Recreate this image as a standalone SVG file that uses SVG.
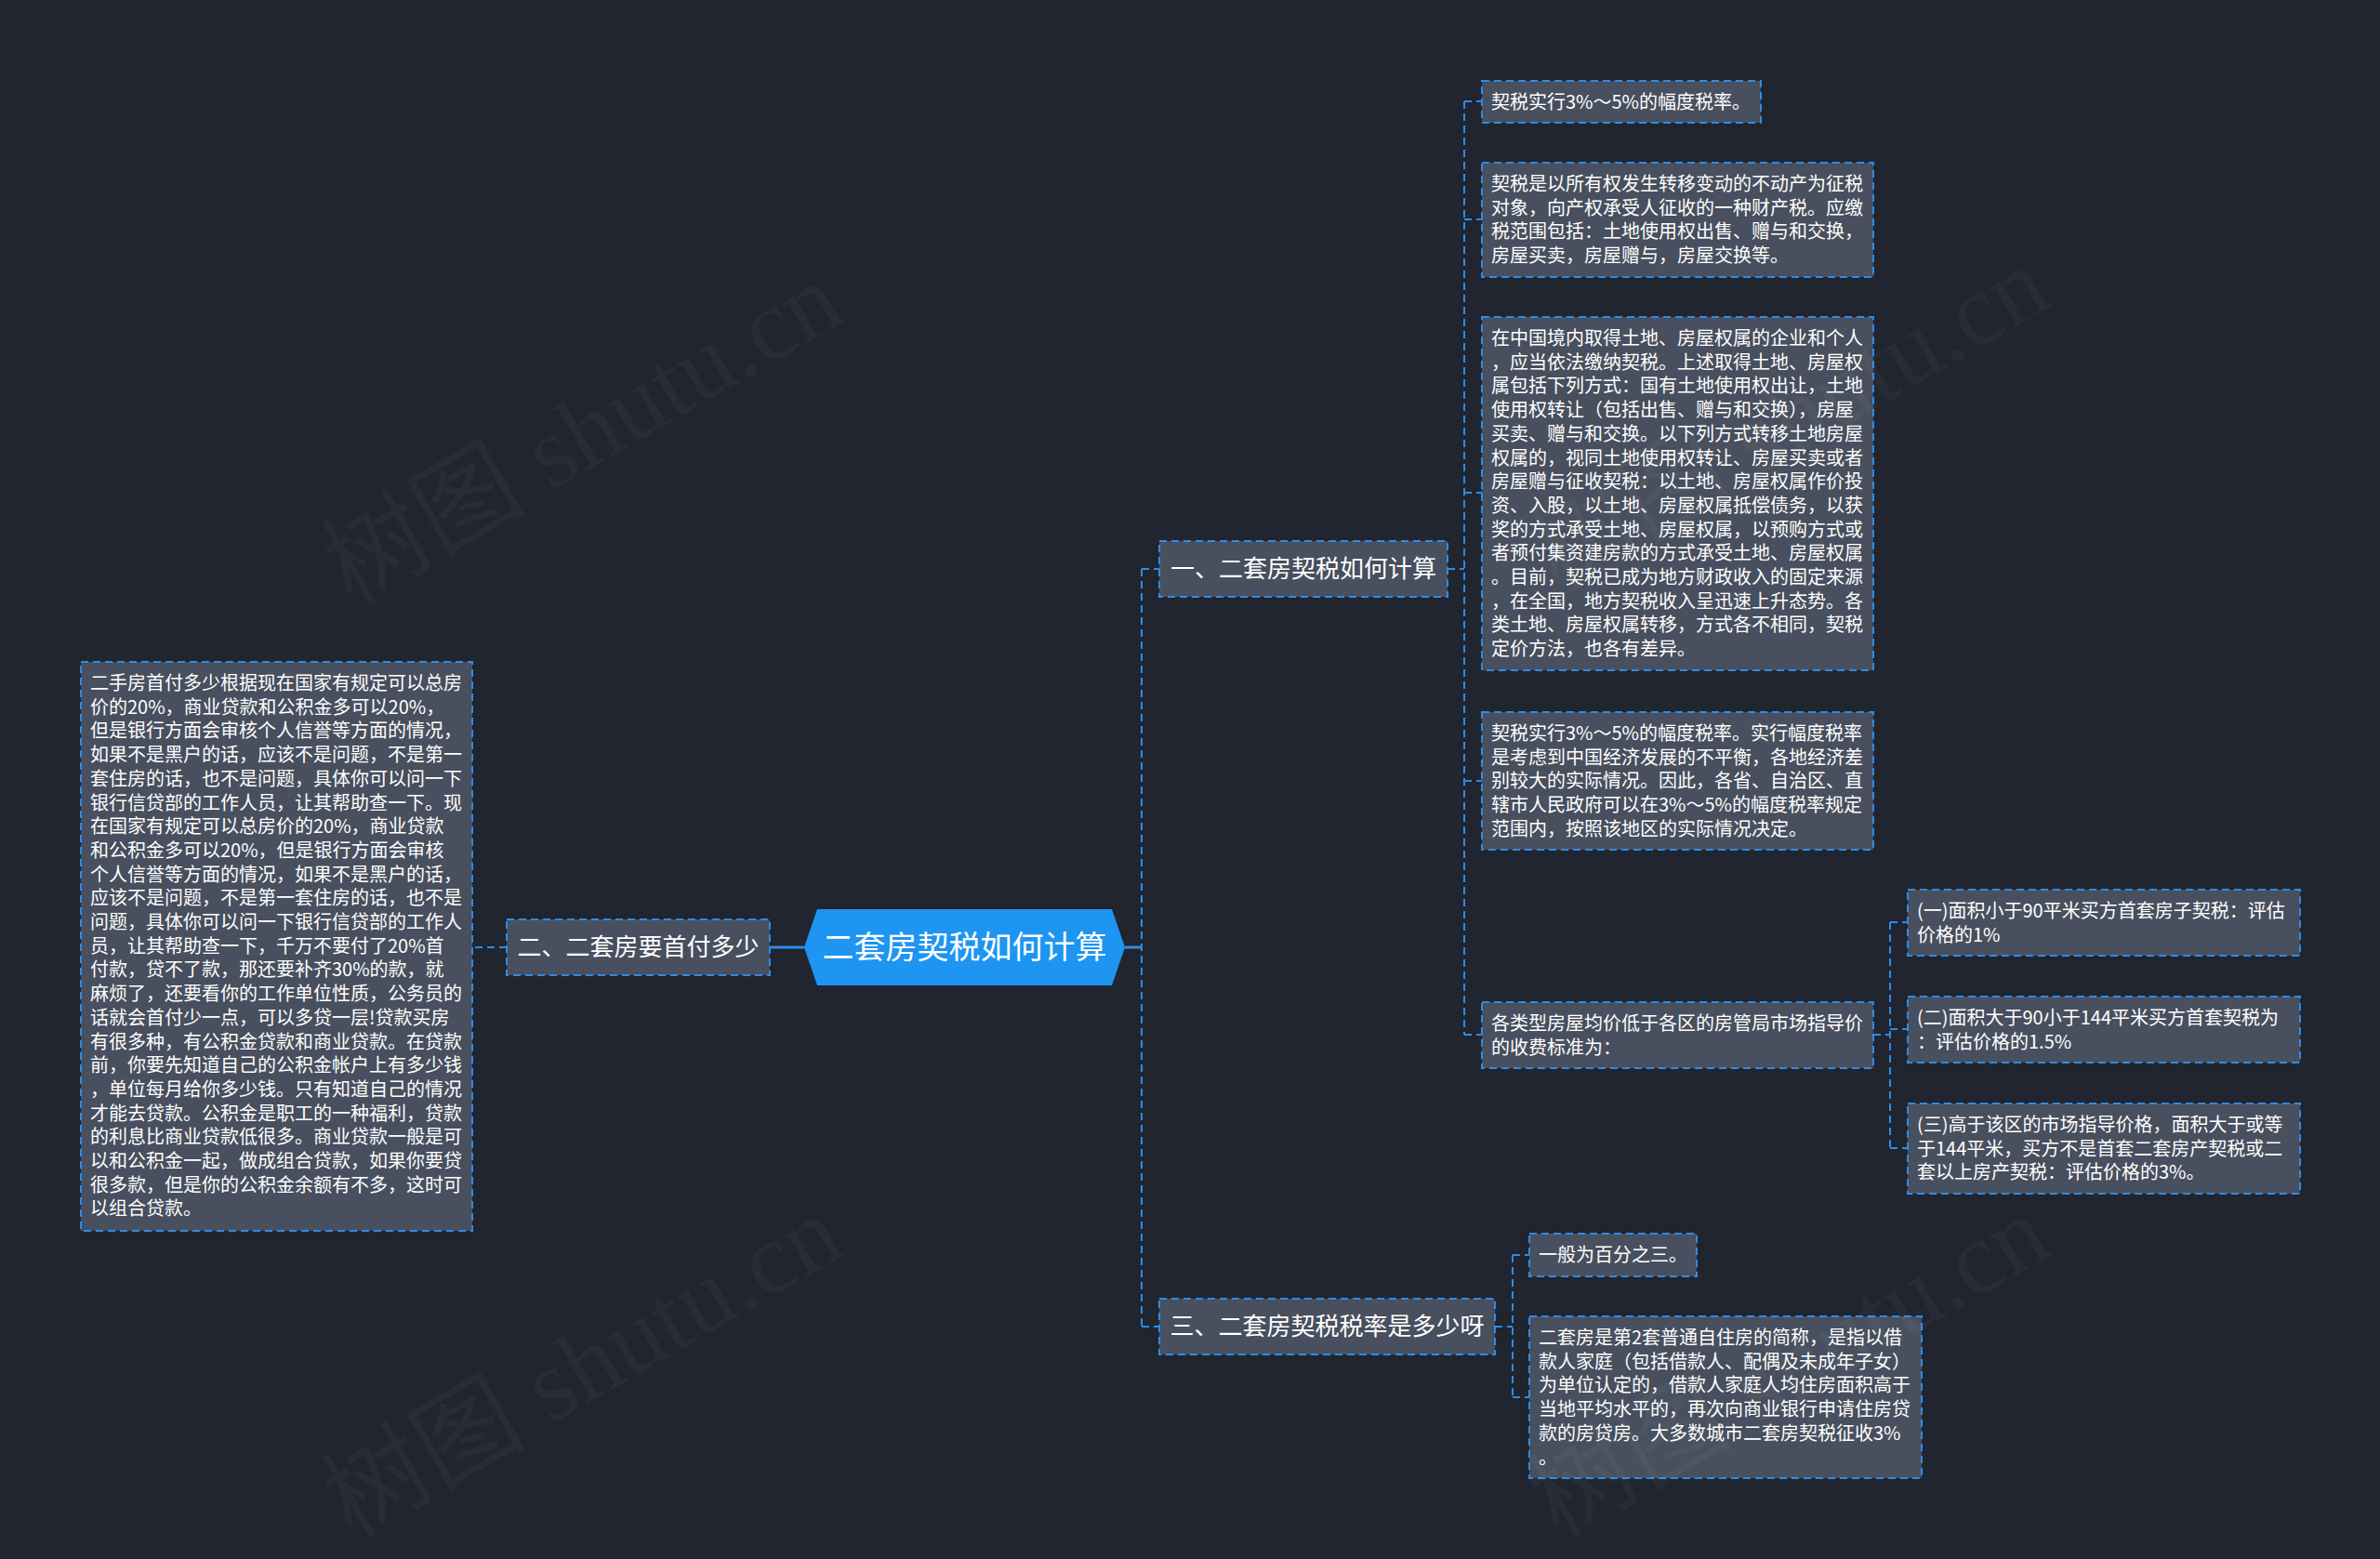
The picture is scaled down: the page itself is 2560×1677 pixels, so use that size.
<svg xmlns="http://www.w3.org/2000/svg" width="2560" height="1677" viewBox="0 0 2560 1677">
<style>
.bg{fill:#212530}
.box{fill:#484f5e;stroke:#2d8ce6;stroke-width:2;stroke-dasharray:8 5}
.t{font-family:"Noto Sans CJK SC","Noto Sans",sans-serif;fill:#ffffff;font-size:20px}
.bt{font-family:"Noto Sans CJK SC","Noto Sans",sans-serif;fill:#ffffff;font-size:26px;text-anchor:middle}
.rt{font-family:"Noto Sans CJK SC","Noto Sans",sans-serif;fill:#ffffff;font-size:34px;text-anchor:middle}
.dash{fill:none;stroke:#2d8ce6;stroke-width:2;stroke-dasharray:8 5}
.solid{fill:none;stroke:#2d8ce6;stroke-width:3}
.wm{font-family:"Liberation Serif","Noto Sans CJK SC",serif;font-size:110px;fill:#ffffff;fill-opacity:0.035}
</style>
<rect class="bg" x="0" y="0" width="2560" height="1677"/>

<g id="connectors">
<path class="solid" d="M1210,1019 H1228"/>
<path class="solid" d="M828,1019 H865"/>
<path class="dash" d="M1228,612 V1427 M1228,612 H1247 M1228,1427 H1247"/>
<path class="dash" d="M545,1019 H508"/>
<path class="dash" d="M1557,612 H1575 M1575,109 V1113 M1575,109 H1594 M1575,236 H1594 M1575,530 H1594 M1575,840 H1594 M1575,1113 H1594"/>
<path class="dash" d="M2015,1113 H2033 M2033,992 V1235 M2033,992 H2052 M2033,1107 H2052 M2033,1235 H2052"/>
<path class="dash" d="M1608,1427 H1627 M1627,1350 V1503 M1627,1350 H1645 M1627,1503 H1645"/>
</g>

<g id="root">
<polygon points="865,1019 879,978 1196,978 1210,1019 1196,1060 879,1060" fill="#1e95f0"/>
<text class="rt" x="1037.5" y="1031">二套房契税如何计算</text>
</g>

<g id="branch-1">
<rect class="box" x="1247" y="582" width="310" height="60"/>
<text class="bt" x="1402" y="621">一、二套房契税如何计算</text>
</g>

<g id="branch-2">
<rect class="box" x="545" y="989" width="283" height="60"/>
<text class="bt" x="686.5" y="1028">二、二套房要首付多少</text>
</g>

<g id="branch-3">
<rect class="box" x="1247" y="1397" width="361" height="60"/>
<text class="bt" x="1427.5" y="1436">三、二套房契税税率是多少呀</text>
</g>

<g id="leaf-left">
<rect class="box" x="87" y="712" width="421" height="612"/>
<text class="t">
<tspan x="97" y="742">二手房首付多少根据现在国家有规定可以总房</tspan>
<tspan x="97" y="767.7">价的20%，商业贷款和公积金多可以20%，</tspan>
<tspan x="97" y="793.4">但是银行方面会审核个人信誉等方面的情况，</tspan>
<tspan x="97" y="819.1">如果不是黑户的话，应该不是问题，不是第一</tspan>
<tspan x="97" y="844.8">套住房的话，也不是问题，具体你可以问一下</tspan>
<tspan x="97" y="870.5">银行信贷部的工作人员，让其帮助查一下。现</tspan>
<tspan x="97" y="896.2">在国家有规定可以总房价的20%，商业贷款</tspan>
<tspan x="97" y="921.9">和公积金多可以20%，但是银行方面会审核</tspan>
<tspan x="97" y="947.6">个人信誉等方面的情况，如果不是黑户的话，</tspan>
<tspan x="97" y="973.3">应该不是问题，不是第一套住房的话，也不是</tspan>
<tspan x="97" y="999">问题，具体你可以问一下银行信贷部的工作人</tspan>
<tspan x="97" y="1024.7">员，让其帮助查一下，千万不要付了20%首</tspan>
<tspan x="97" y="1050.4">付款，贷不了款，那还要补齐30%的款，就</tspan>
<tspan x="97" y="1076.1">麻烦了，还要看你的工作单位性质，公务员的</tspan>
<tspan x="97" y="1101.8">话就会首付少一点，可以多贷一层!贷款买房</tspan>
<tspan x="97" y="1127.5">有很多种，有公积金贷款和商业贷款。在贷款</tspan>
<tspan x="97" y="1153.2">前，你要先知道自己的公积金帐户上有多少钱</tspan>
<tspan x="97" y="1178.9">，单位每月给你多少钱。只有知道自己的情况</tspan>
<tspan x="97" y="1204.6">才能去贷款。公积金是职工的一种福利，贷款</tspan>
<tspan x="97" y="1230.3">的利息比商业贷款低很多。商业贷款一般是可</tspan>
<tspan x="97" y="1256">以和公积金一起，做成组合贷款，如果你要贷</tspan>
<tspan x="97" y="1281.7">很多款，但是你的公积金余额有不多，这时可</tspan>
<tspan x="97" y="1307.4">以组合贷款。</tspan>
</text>
</g>

<g id="leaf-1-1">
<rect class="box" x="1594" y="87" width="300" height="45"/>
<text class="t"><tspan x="1604" y="117">契税实行3%～5%的幅度税率。</tspan></text>
</g>

<g id="leaf-1-2">
<rect class="box" x="1594" y="175" width="421" height="123"/>
<text class="t">
<tspan x="1604" y="205">契税是以所有权发生转移变动的不动产为征税</tspan>
<tspan x="1604" y="230.7">对象，向产权承受人征收的一种财产税。应缴</tspan>
<tspan x="1604" y="256.4">税范围包括：土地使用权出售、赠与和交换，</tspan>
<tspan x="1604" y="282.1">房屋买卖，房屋赠与，房屋交换等。</tspan>
</text>
</g>

<g id="leaf-1-3">
<rect class="box" x="1594" y="341" width="421" height="380"/>
<text class="t">
<tspan x="1604" y="371">在中国境内取得土地、房屋权属的企业和个人</tspan>
<tspan x="1604" y="396.7">，应当依法缴纳契税。上述取得土地、房屋权</tspan>
<tspan x="1604" y="422.4">属包括下列方式：国有土地使用权出让，土地</tspan>
<tspan x="1604" y="448.1">使用权转让（包括出售、赠与和交换），房屋</tspan>
<tspan x="1604" y="473.8">买卖、赠与和交换。以下列方式转移土地房屋</tspan>
<tspan x="1604" y="499.5">权属的，视同土地使用权转让、房屋买卖或者</tspan>
<tspan x="1604" y="525.2">房屋赠与征收契税：以土地、房屋权属作价投</tspan>
<tspan x="1604" y="550.9">资、入股，以土地、房屋权属抵偿债务，以获</tspan>
<tspan x="1604" y="576.6">奖的方式承受土地、房屋权属，以预购方式或</tspan>
<tspan x="1604" y="602.3">者预付集资建房款的方式承受土地、房屋权属</tspan>
<tspan x="1604" y="628">。目前，契税已成为地方财政收入的固定来源</tspan>
<tspan x="1604" y="653.7">，在全国，地方契税收入呈迅速上升态势。各</tspan>
<tspan x="1604" y="679.4">类土地、房屋权属转移，方式各不相同，契税</tspan>
<tspan x="1604" y="705.1">定价方法，也各有差异。</tspan>
</text>
</g>

<g id="leaf-1-4">
<rect class="box" x="1594" y="766" width="421" height="148"/>
<text class="t">
<tspan x="1604" y="796">契税实行3%～5%的幅度税率。实行幅度税率</tspan>
<tspan x="1604" y="821.7">是考虑到中国经济发展的不平衡，各地经济差</tspan>
<tspan x="1604" y="847.4">别较大的实际情况。因此，各省、自治区、直</tspan>
<tspan x="1604" y="873.1">辖市人民政府可以在3%～5%的幅度税率规定</tspan>
<tspan x="1604" y="898.8">范围内，按照该地区的实际情况决定。</tspan>
</text>
</g>

<g id="leaf-1-5">
<rect class="box" x="1594" y="1078" width="421" height="71"/>
<text class="t">
<tspan x="1604" y="1108">各类型房屋均价低于各区的房管局市场指导价</tspan>
<tspan x="1604" y="1133.7">的收费标准为：</tspan>
</text>
</g>

<g id="leaf-1-5-1">
<rect class="box" x="2052" y="957" width="422" height="71"/>
<text class="t">
<tspan x="2062" y="987">(一)面积小于90平米买方首套房子契税：评估</tspan>
<tspan x="2062" y="1012.7">价格的1%</tspan>
</text>
</g>

<g id="leaf-1-5-2">
<rect class="box" x="2052" y="1072" width="422" height="71"/>
<text class="t">
<tspan x="2062" y="1102">(二)面积大于90小于144平米买方首套契税为</tspan>
<tspan x="2062" y="1127.7">：评估价格的1.5%</tspan>
</text>
</g>

<g id="leaf-1-5-3">
<rect class="box" x="2052" y="1187" width="422" height="97"/>
<text class="t">
<tspan x="2062" y="1217">(三)高于该区的市场指导价格，面积大于或等</tspan>
<tspan x="2062" y="1242.7">于144平米，买方不是首套二套房产契税或二</tspan>
<tspan x="2062" y="1268.4">套以上房产契税：评估价格的3%。</tspan>
</text>
</g>

<g id="leaf-3-1">
<rect class="box" x="1645" y="1327" width="180" height="46"/>
<text class="t"><tspan x="1655" y="1357">一般为百分之三。</tspan></text>
</g>

<g id="leaf-3-2">
<rect class="box" x="1645" y="1416" width="422" height="174"/>
<text class="t">
<tspan x="1655" y="1446">二套房是第2套普通自住房的简称，是指以借</tspan>
<tspan x="1655" y="1471.7">款人家庭（包括借款人、配偶及未成年子女）</tspan>
<tspan x="1655" y="1497.4">为单位认定的，借款人家庭人均住房面积高于</tspan>
<tspan x="1655" y="1523.1">当地平均水平的，再次向商业银行申请住房贷</tspan>
<tspan x="1655" y="1548.8">款的房贷房。大多数城市二套房契税征收3%</tspan>
<tspan x="1655" y="1574.5">。</tspan>
</text>
</g>

<g id="watermarks">
<text class="wm" transform="translate(645,498) rotate(-30)" text-anchor="middle">树图 shutu.cn</text>
<text class="wm" transform="translate(645,1502) rotate(-30)" text-anchor="middle">树图 shutu.cn</text>
<text class="wm" transform="translate(1943,482) rotate(-30)" text-anchor="middle">树图 shutu.cn</text>
<text class="wm" transform="translate(1943,1502) rotate(-30)" text-anchor="middle">树图 shutu.cn</text>
</g>
</svg>
